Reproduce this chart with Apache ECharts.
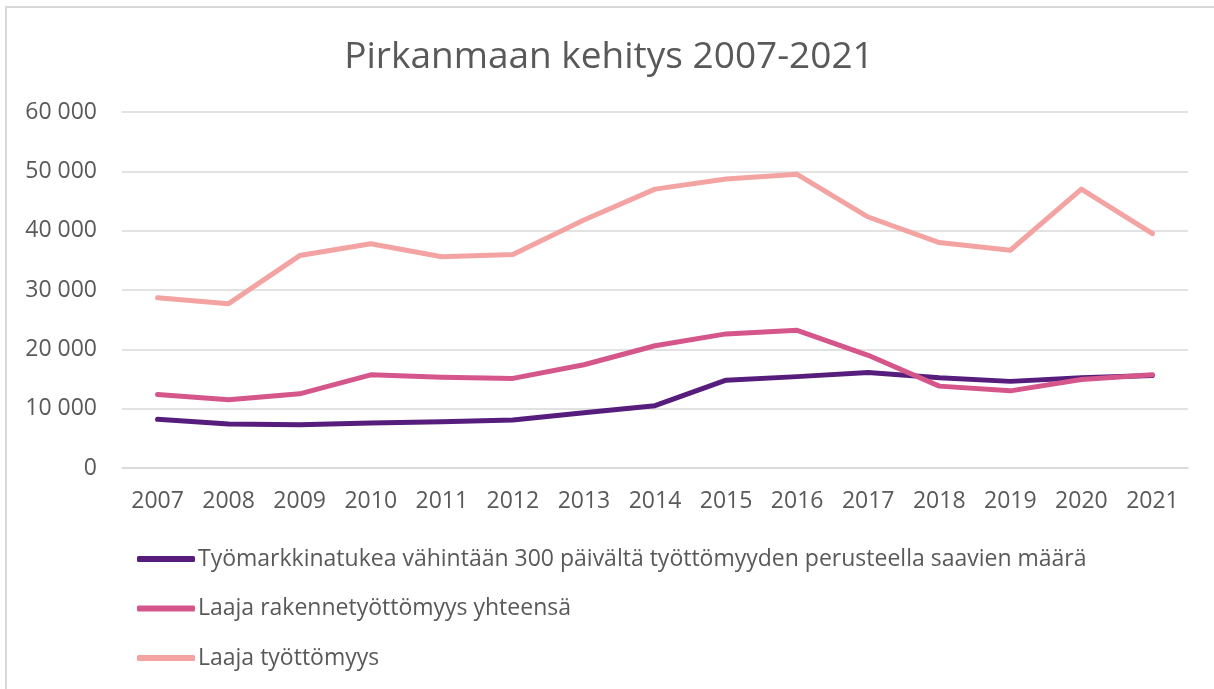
<!DOCTYPE html>
<html>
<head>
<meta charset="utf-8">
<script src="https://cdn.jsdelivr.net/npm/echarts@6/dist/echarts.min.js"></script>
<style>
  html, body { margin: 0; padding: 0; background: #ffffff; }
  #chart { width: 1214px; height: 689px; }
</style>
</head>
<body>
<div id="chart"></div>
<script>
// Years on the category axis
const years = ['2007','2008','2009','2010','2011','2012','2013','2014','2015','2016','2017','2018','2019','2020','2021'];

// Series names
const nameLongTerm = 'Työmarkkinatukea vähintään 300 päivältä työttömyyden perusteella saavien määrä';
const nameStructural = 'Laaja rakennetyöttömyys yhteensä';
const nameBroad = 'Laaja työttömyys';

// Series values (persons)
const longTermValues   = [8200, 7400, 7300, 7600, 7800, 8100, 9300, 10500, 14800, 15400, 16100, 15200, 14600, 15200, 15600];
const structuralValues = [12400, 11500, 12500, 15700, 15300, 15100, 17400, 20600, 22600, 23200, 19000, 13800, 13000, 14900, 15700];
const broadValues      = [28700, 27700, 35800, 37800, 35600, 36000, 41800, 47000, 48700, 49500, 42300, 38000, 36700, 47000, 39500];

const FONT = '"Open Sans", "Liberation Sans", sans-serif';
const TEXT = '#595959';
const COLORS = ['#561d7d', '#d5568b', '#f4a3a3'];

const chart = echarts.init(document.getElementById('chart'), null, { renderer: 'canvas' });

function fmt(v) {
  return String(v).replace(/\B(?=(\d{3})+(?!\d))/g, ' ');
}

function lineSeries(name, data, color) {
  return {
    name: name,
    type: 'line',
    data: data,
    symbol: 'none',
    smooth: false,
    lineStyle: { color: color, width: 5, cap: 'round', join: 'round' },
    itemStyle: { color: color }
  };
}

chart.setOption({
  animation: false,
  backgroundColor: '#ffffff',
  color: COLORS,
  title: {
    text: 'Pirkanmaan kehitys 2007-2021',
    left: 604,
    textAlign: 'center',
    top: 34,
    textStyle: { fontFamily: FONT, fontSize: 37, fontWeight: 'normal', color: TEXT }
  },
  graphic: [{
    type: 'rect',
    shape: { x: 6, y: 7, width: 1220, height: 700 },
    style: { fill: 'none', stroke: '#d9d9d9', lineWidth: 2 },
    silent: true,
    z: -1
  }],
  grid: { left: 122, right: 26, top: 112, bottom: 221, containLabel: false },
  legend: {
    orient: 'vertical',
    left: 132,
    top: 541,
    itemWidth: 58,
    itemHeight: 6,
    itemGap: 23.5,
    icon: 'roundRect',
    textStyle: { fontFamily: FONT, fontSize: 23, color: TEXT, lineHeight: 26, padding: [0, 0, 0, -2] },
    data: [nameLongTerm, nameStructural, nameBroad]
  },
  xAxis: {
    type: 'category',
    data: years,
    boundaryGap: true,
    axisLine: { show: true, lineStyle: { color: '#d9d9d9', width: 1.5 } },
    axisTick: { show: false },
    axisLabel: { fontFamily: FONT, fontSize: 23, color: TEXT, margin: 22 }
  },
  yAxis: {
    type: 'value',
    min: 0,
    max: 60000,
    interval: 10000,
    axisLine: { show: false },
    axisTick: { show: false },
    splitLine: { lineStyle: { color: '#d9d9d9', width: 1.5 } },
    axisLabel: { fontFamily: FONT, fontSize: 23, color: TEXT, margin: 25, formatter: fmt }
  },
  series: [
    lineSeries(nameLongTerm, longTermValues, COLORS[0]),
    lineSeries(nameStructural, structuralValues, COLORS[1]),
    lineSeries(nameBroad, broadValues, COLORS[2])
  ]
});
</script>
</body>
</html>
